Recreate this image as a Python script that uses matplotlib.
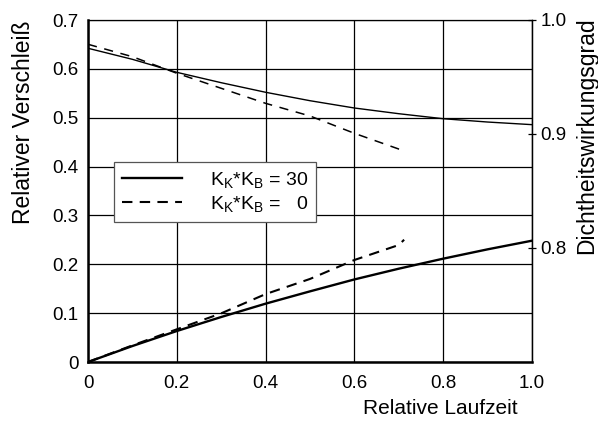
import matplotlib
matplotlib.use("Agg")
import matplotlib.pyplot as plt

plt.rcParams['font.family'] = ['Liberation Sans', 'DejaVu Sans']
plt.rcParams['mathtext.fontset'] = 'custom'
plt.rcParams['mathtext.rm'] = 'Liberation Sans'
plt.rcParams['mathtext.it'] = 'Liberation Sans'

# Relative Laufzeit
x_solid = [0.0, 0.1, 0.2, 0.3, 0.4, 0.5, 0.6, 0.7, 0.8, 0.9, 1.0]
x_dash = [0.0, 0.1, 0.2, 0.3, 0.4, 0.5, 0.6, 0.7, 0.712]

# Dichtheitswirkungsgrad (right axis)
eta_30 = [0.9752, 0.9655, 0.9541, 0.9450, 0.9366, 0.9292, 0.9228, 0.9178, 0.9134, 0.9105, 0.9082]
eta_0 = [0.9787, 0.9678, 0.9533, 0.9401, 0.9269, 0.9158, 0.9006, 0.8868, 0.8857]

# Relativer Verschleiss (left axis)
wear_30 = [0.0, 0.0327, 0.0634, 0.0921, 0.1194, 0.1446, 0.169, 0.191, 0.2115, 0.2306, 0.2483]
wear_0 = [0.0, 0.034, 0.0669, 0.0996, 0.139, 0.170, 0.2088, 0.2395, 0.2503]

labels = [r'$\mathregular{K_K{*}K_B}$ = 30', r'$\mathregular{K_K{*}K_B}$ =   0']

fig = plt.figure(figsize=(5.98, 4.23), dpi=100)
ax = fig.add_axes([88/598, 1-362/423, 444/598, 342/423])
ax2 = ax.twinx()

l1, = ax.plot(x_solid, wear_30, color='black', lw=1.7, ls='-')
l2, = ax.plot(x_dash, wear_0, color='black', lw=1.5, ls=(0, (5, 3.5)))
ax2.plot(x_solid, eta_30, color='black', lw=1.0, ls='-')
ax2.plot(x_dash, eta_0, color='black', lw=1.1, ls=(0, (6, 5)))

ax.set_xlim(0, 1.0)
ax.set_ylim(0, 0.7)
ax2.set_ylim(0.7, 1.0)

ax.set_xticks([0, 0.2, 0.4, 0.6, 0.8, 1.0])
ax.set_xticklabels(['0', '0.2', '0.4', '0.6', '0.8', '1.0'])
ax.set_yticks([0, 0.1, 0.2, 0.3, 0.4, 0.5, 0.6, 0.7])
ax.set_yticklabels(['0', '0.1', '0.2', '0.3', '0.4', '0.5', '0.6', '0.7'])
ax2.set_yticks([0.8, 0.9, 1.0])
ax2.set_yticklabels(['0.8', '0.9', '1.0'])

ax.grid(True, color='black', lw=0.9)
ax.set_axisbelow(True)
ax.tick_params(axis='y', length=0, labelsize=13.5, pad=7)
ax.tick_params(axis='x', length=0, labelsize=13.5, pad=9)
ax2.tick_params(axis='y', direction='inout', length=6, width=0.9, labelsize=13.5, pad=3)

for s in ['top', 'right']:
    ax.spines[s].set_linewidth(0.9)
for s in ['left', 'bottom']:
    ax.spines[s].set_linewidth(1.8)
ax2.spines['right'].set_linewidth(0.9)
ax2.spines['left'].set_visible(False)
ax2.spines['bottom'].set_visible(False)
ax2.spines['top'].set_visible(False)

fig.text(24/598, 1-122/423, 'Relativer Verschleiß', rotation=90, ha='center', va='center', fontsize=16.5)
fig.text(587/598, 1-136/423, 'Dichtheitswirkungsgrad', rotation=90, ha='center', va='center', fontsize=16.5)
fig.text(440/598, 1-408/423, 'Relative Laufzeit', ha='center', va='center', fontsize=15)

leg = ax2.legend([l1, l2], labels, loc='upper left', bbox_to_anchor=(114/598, 1-162/423),
                 bbox_transform=fig.transFigure, fontsize=14, frameon=True, fancybox=False,
                 handlelength=3.1, handletextpad=1.4, borderpad=0.42, labelspacing=0.2,
                 borderaxespad=0)
leg.get_frame().set_edgecolor('#555555')
leg.get_frame().set_linewidth(0.9)
leg.get_frame().set_alpha(1)

fig.savefig('out.png', dpi=100)
